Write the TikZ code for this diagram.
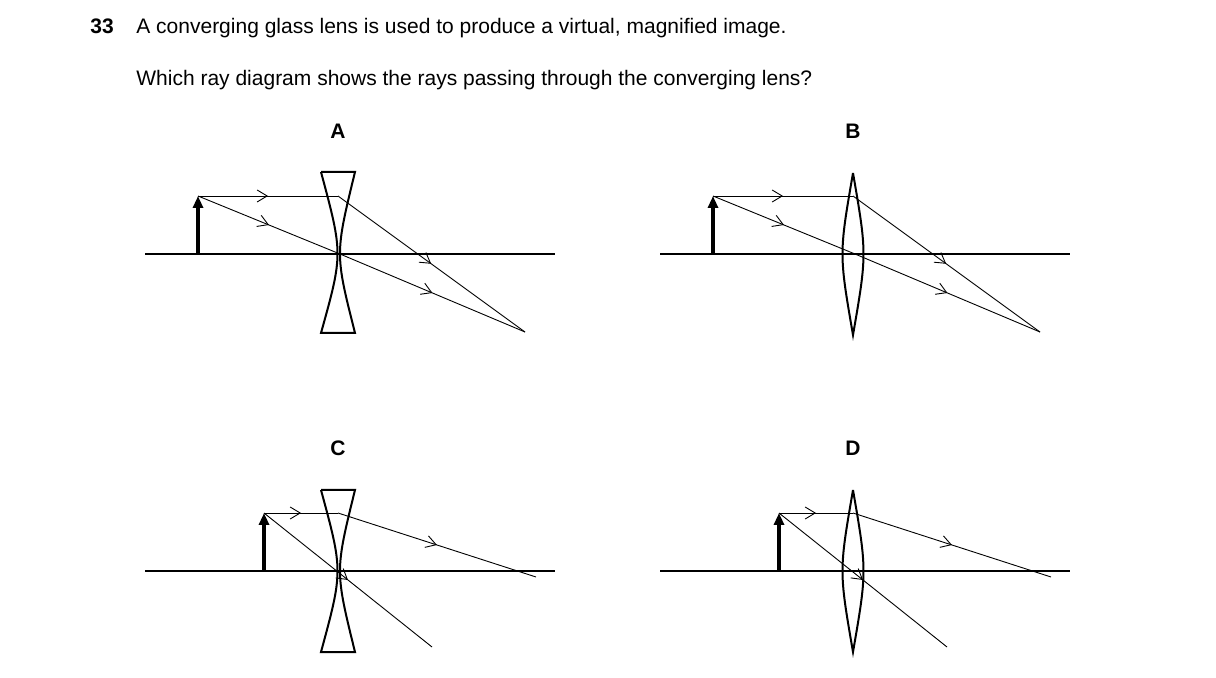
\documentclass[tikz,border=0pt]{standalone}
\usepackage{fontspec}
\setmainfont{Liberation Sans}
\usetikzlibrary{arrows.meta,decorations.markings}

\begin{document}
\begin{tikzpicture}[
		x=0.5pt, y=-0.5pt,
		axisLine/.style={line width=0.6pt},
		lensLine/.style={line width=1pt},
		objArrow/.style={line width=1.6pt, -{Triangle[length=6pt,width=5pt]}},
		ray/.style={line width=0.45pt, postaction={decorate}, decoration={markings, mark=at position 0.5 with {\arrow{Straight Barb[length=5pt,width=6pt,line width=0.45pt]}}}},
		textLabel/.style={font=\fontsize{10.5}{12}\selectfont, anchor=base west, inner sep=0pt},
		letterLabel/.style={font=\fontsize{10.5}{12}\selectfont\bfseries, inner sep=0pt}
	]
	\useasboundingbox (0,0) rectangle (1216,678);
	
	\node[textLabel, font=\fontsize{10.5}{12}\selectfont\bfseries] (qNum) at (90,34) {33};
	\node[textLabel] (qText) at (136,34) {A converging glass lens is used to produce a virtual, magnified image.};
	\node[textLabel] (qAsk) at (136,86) {Which ray diagram shows the rays passing through the converging lens?};
	
	\node[letterLabel] (labelA) at (338,131) {A};
	\node[letterLabel] (labelB) at (853,131) {B};
	\node[letterLabel] (labelC) at (338,448) {C};
	\node[letterLabel] (labelD) at (853,448) {D};
	
	% diagram A
	\coordinate (axA1) at (145,254); \coordinate (axA2) at (555,254);
	\coordinate (baseA) at (198,254); \coordinate (tipA) at (198,196);
	\coordinate (hitA) at (338,196); \coordinate (ctrA) at (340,254);
	\coordinate (focA) at (525,332);
	\draw[axisLine] (axA1) -- (axA2);
	\draw[lensLine] (321,172) -- (355,172) .. controls (335,254) .. (355,333) -- (321,333) .. controls (343,254) .. (321,172);
	\draw[objArrow] (baseA) -- (tipA);
	\draw[ray] (tipA) -- (hitA);
	\draw[ray] (hitA) -- (focA);
	\draw[ray] (tipA) -- (ctrA);
	\draw[ray] (ctrA) -- (focA);
	
	% diagram B
	\coordinate (axB1) at (660,254); \coordinate (axB2) at (1070,254);
	\coordinate (baseB) at (713,254); \coordinate (tipB) at (713,196);
	\coordinate (hitB) at (853,196); \coordinate (ctrB) at (855,254);
	\coordinate (focB) at (1040,332);
	\draw[axisLine] (axB1) -- (axB2);
	\draw[lensLine] (853,173) .. controls (867,254) .. (853,335) .. controls (839,254) .. (853,173);
	\draw[objArrow] (baseB) -- (tipB);
	\draw[ray] (tipB) -- (hitB);
	\draw[ray] (hitB) -- (focB);
	\draw[ray] (tipB) -- (ctrB);
	\draw[ray] (ctrB) -- (focB);
	
	% diagram C
	\coordinate (axC1) at (145,571); \coordinate (axC2) at (555,571);
	\coordinate (baseC) at (264,571); \coordinate (tipC) at (264,513);
	\coordinate (hitC) at (338,513); \coordinate (endC1) at (536,577);
	\coordinate (endC2) at (432,647);
	\draw[axisLine] (axC1) -- (axC2);
	\draw[lensLine] (321,490) -- (355,490) .. controls (335,571) .. (355,652) -- (321,652) .. controls (343,571) .. (321,490);
	\draw[objArrow] (baseC) -- (tipC);
	\draw[ray] (tipC) -- (hitC);
	\draw[ray] (hitC) -- (endC1);
	\draw[ray] (tipC) -- (endC2);
	
	% diagram D
	\coordinate (axD1) at (660,571); \coordinate (axD2) at (1070,571);
	\coordinate (baseD) at (779,571); \coordinate (tipD) at (779,513);
	\coordinate (hitD) at (853,513); \coordinate (endD1) at (1051,577);
	\coordinate (endD2) at (947,647);
	\draw[axisLine] (axD1) -- (axD2);
	\draw[lensLine] (853,490) .. controls (867,571) .. (853,652) .. controls (839,571) .. (853,490);
	\draw[objArrow] (baseD) -- (tipD);
	\draw[ray] (tipD) -- (hitD);
	\draw[ray] (hitD) -- (endD1);
	\draw[ray] (tipD) -- (endD2);
\end{tikzpicture}
\end{document}
